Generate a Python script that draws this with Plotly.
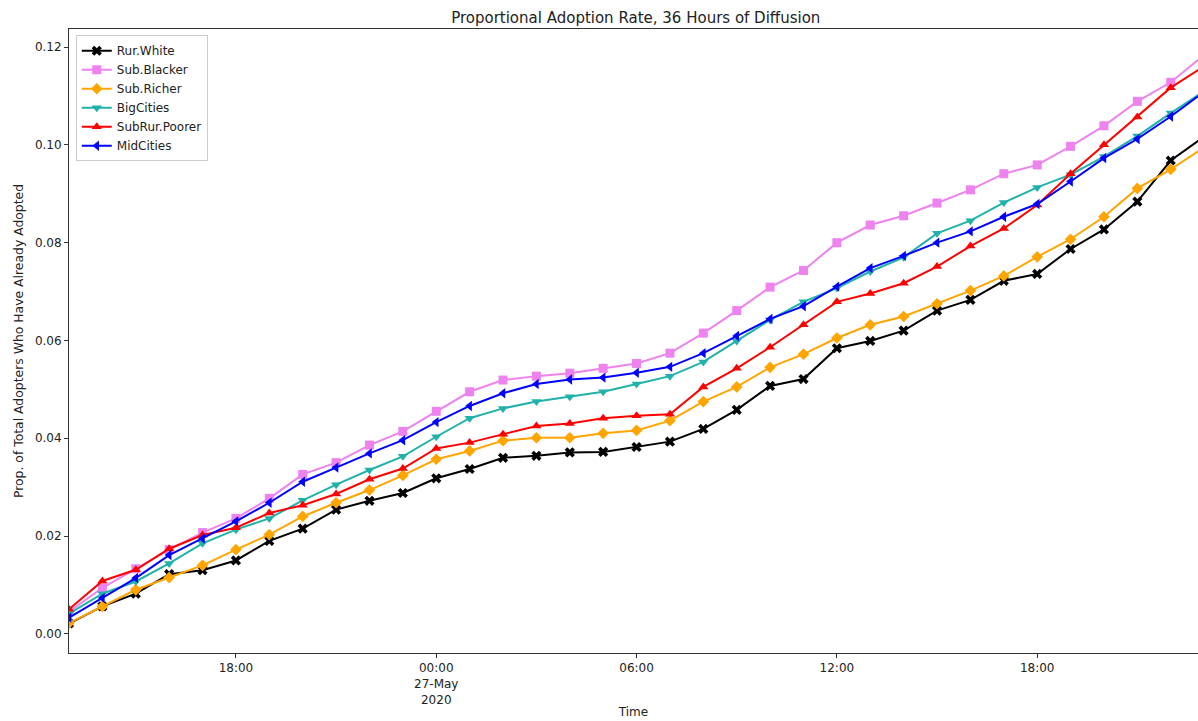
import pandas as pd
import plotly.graph_objects as go

times = pd.date_range("2020-05-26 13:00", periods=35, freq="h")

rur_white = [0.0021, 0.0056, 0.0082, 0.0122, 0.0130, 0.0150, 0.0190, 0.0215, 0.0254, 0.0272,
             0.0288, 0.0318, 0.0337, 0.0360, 0.0364, 0.0371, 0.0372, 0.0382, 0.0393, 0.0419,
             0.0458, 0.0507, 0.0521, 0.0584, 0.0599, 0.0620, 0.0661, 0.0683, 0.0722, 0.0736,
             0.0787, 0.0827, 0.0884, 0.0968, 0.1017]
sub_blacker = [0.0045, 0.0094, 0.0133, 0.0172, 0.0207, 0.0236, 0.0277, 0.0326, 0.0350, 0.0386,
               0.0414, 0.0455, 0.0495, 0.0519, 0.0527, 0.0533, 0.0543, 0.0553, 0.0574, 0.0615,
               0.0661, 0.0709, 0.0743, 0.0800, 0.0836, 0.0855, 0.0881, 0.0908, 0.0941, 0.0959,
               0.0997, 0.1039, 0.1089, 0.1128, 0.1184]
sub_richer = [0.0022, 0.0056, 0.0090, 0.0115, 0.0140, 0.0172, 0.0203, 0.0240, 0.0268, 0.0294,
              0.0324, 0.0357, 0.0374, 0.0395, 0.0401, 0.0401, 0.0410, 0.0416, 0.0436, 0.0475,
              0.0505, 0.0545, 0.0572, 0.0605, 0.0632, 0.0649, 0.0675, 0.0702, 0.0732, 0.0771,
              0.0807, 0.0853, 0.0911, 0.0950, 0.0995]
big_cities = [0.0041, 0.0082, 0.0107, 0.0144, 0.0185, 0.0213, 0.0236, 0.0273, 0.0305, 0.0335,
              0.0363, 0.0403, 0.0441, 0.0461, 0.0475, 0.0485, 0.0495, 0.0511, 0.0527, 0.0556,
              0.0599, 0.0642, 0.0679, 0.0707, 0.0741, 0.0770, 0.0819, 0.0845, 0.0882, 0.0913,
              0.0939, 0.0976, 0.1018, 0.1065, 0.1110]
subrur_poorer = [0.0050, 0.0108, 0.0131, 0.0174, 0.0202, 0.0217, 0.0247, 0.0263, 0.0286, 0.0316,
                 0.0338, 0.0379, 0.0391, 0.0408, 0.0425, 0.0430, 0.0441, 0.0446, 0.0449, 0.0505,
                 0.0543, 0.0586, 0.0632, 0.0679, 0.0696, 0.0717, 0.0751, 0.0793, 0.0829, 0.0877,
                 0.0941, 0.1000, 0.1057, 0.1117, 0.1161]
mid_cities = [0.0033, 0.0073, 0.0114, 0.0161, 0.0195, 0.0230, 0.0268, 0.0311, 0.0340, 0.0369,
              0.0396, 0.0433, 0.0466, 0.0492, 0.0511, 0.0520, 0.0524, 0.0534, 0.0546, 0.0574,
              0.0609, 0.0644, 0.0670, 0.0710, 0.0748, 0.0773, 0.0800, 0.0823, 0.0853, 0.0879,
              0.0925, 0.0973, 0.1012, 0.1058, 0.1109]

series_names = ["Rur.White", "Sub.Blacker", "Sub.Richer", "BigCities", "SubRur.Poorer", "MidCities"]
series_values = [rur_white, sub_blacker, sub_richer, big_cities, subrur_poorer, mid_cities]
series_colors = ["black", "violet", "orange", "lightseagreen", "red", "blue"]
series_symbols = ["x", "square", "diamond", "triangle-down", "triangle-up", "triangle-left"]

x_tickvals = ["2020-05-26 18:00", "2020-05-27 00:00", "2020-05-27 06:00",
              "2020-05-27 12:00", "2020-05-27 18:00"]
x_ticktext = ["18:00", "00:00<br>27-May<br>2020", "06:00", "12:00", "18:00"]
y_tickvals = [0.00, 0.02, 0.04, 0.06, 0.08, 0.10, 0.12]

FONT = "DejaVu Sans"
fig = go.Figure()
for name, vals, col, sym in zip(series_names, series_values, series_colors, series_symbols):
    fig.add_trace(go.Scatter(
        x=times, y=vals, name=name, mode="lines+markers",
        line=dict(color=col, width=2),
        marker=dict(symbol=sym, size=9, color=col, line=dict(width=0)),
        cliponaxis=True,
    ))

fig.update_layout(
    width=1198, height=721,
    margin=dict(l=69, r=0, t=29, b=68, autoexpand=False),
    paper_bgcolor="white", plot_bgcolor="white",
    font=dict(family=FONT, size=12, color="#222"),
    title=dict(text="Proportional Adoption Rate, 36 Hours of Diffusion",
               x=0.502, xref="paper", xanchor="center", y=1, yref="container",
               yanchor="top", pad=dict(t=12), font=dict(size=15, color="#222")),
    showlegend=True,
    legend=dict(x=0.006, y=0.99, xanchor="left", yanchor="top",
                bgcolor="rgba(255,255,255,0.8)", bordercolor="#cccccc", borderwidth=1,
                font=dict(size=12), tracegroupgap=0, itemwidth=30),
)
fig.update_xaxes(
    type="date", automargin=False,
    range=["2020-05-26 13:00", "2020-05-27 22:49"],
    tickvals=x_tickvals, ticktext=x_ticktext,
    ticks="outside", ticklen=4, tickcolor="#333",
    showline=True, linecolor="#333", linewidth=1, mirror=True,
    showgrid=False, zeroline=False,
    title=dict(text="Time", standoff=2, font=dict(size=12)),
)
fig.update_yaxes(
    automargin=False,
    range=[-0.00393, 0.1237],
    tickvals=y_tickvals, tickformat=".2f",
    ticks="outside", ticklen=4, tickcolor="#333",
    showline=True, linecolor="#333", linewidth=1, mirror=True,
    showgrid=False, zeroline=False,
    title=dict(text="Prop. of Total Adopters Who Have Already Adopted", standoff=8,
               font=dict(size=12.4)),
)
fig.write_html(
    "out.html",
    config={"responsive": False, "displayModeBar": False},
    post_script="document.body.style.margin='0px';document.body.style.overflow='hidden';",
)
